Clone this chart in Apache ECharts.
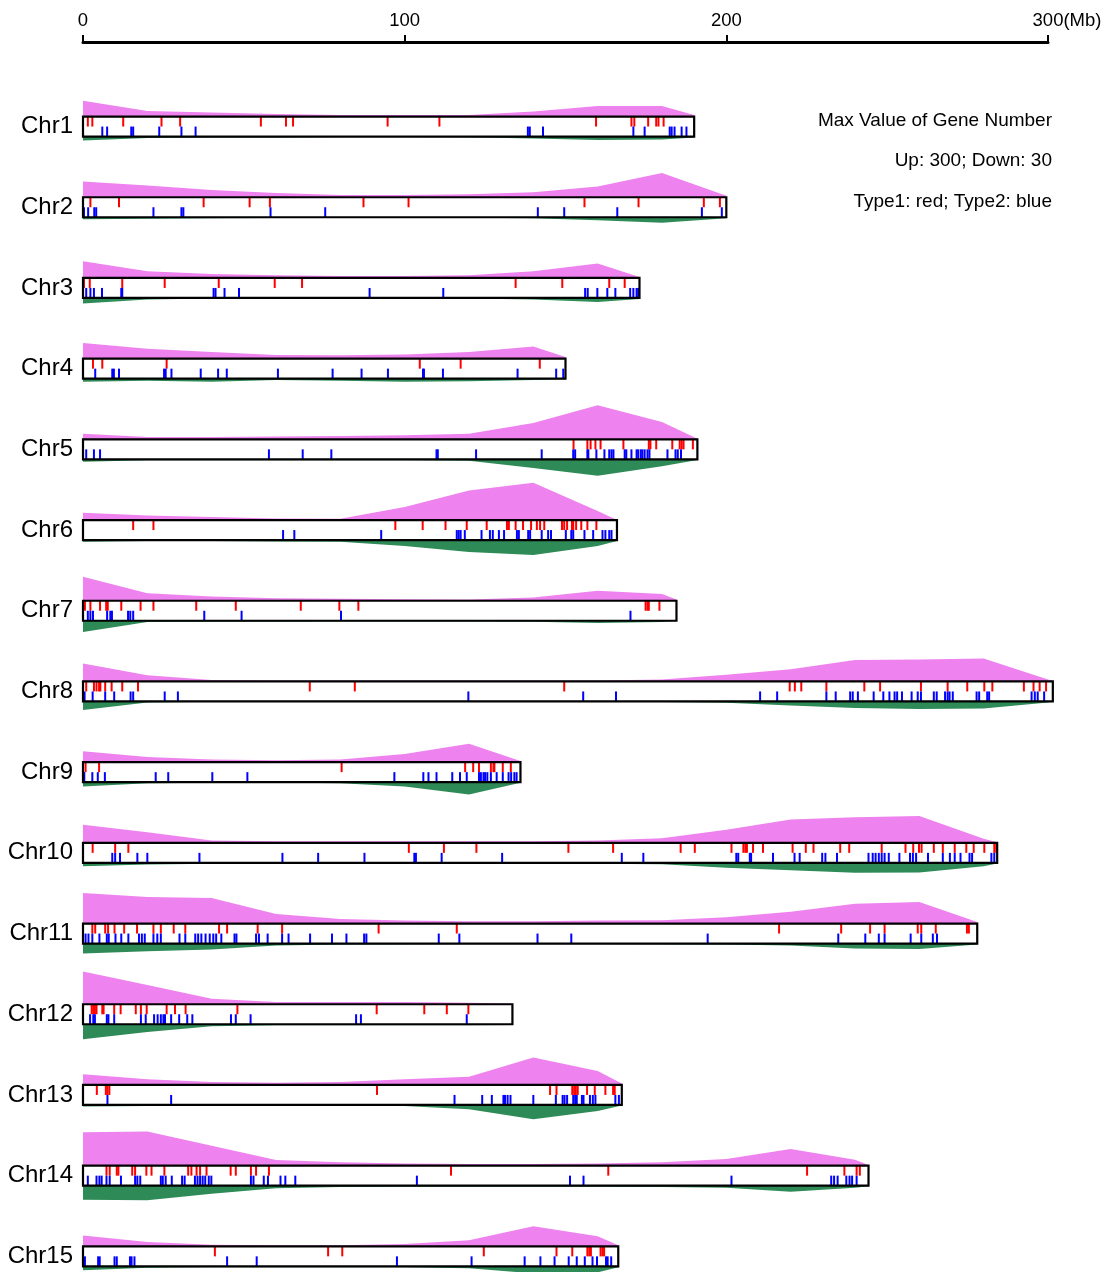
<!DOCTYPE html>
<html>
<head>
<meta charset="utf-8">
<script src="https://cdn.jsdelivr.net/npm/echarts@6/dist/echarts.min.js"></script>
<style>
  html, body { margin: 0; padding: 0; background: #fff; }
  #chart { width: 1108px; height: 1272px; }
</style>
</head>
<body>
<div id="chart"></div>
<script>
// Chromosome names and lengths (Mb)
const chromosomes = ['Chr1','Chr2','Chr3','Chr4','Chr5','Chr6','Chr7','Chr8','Chr9','Chr10','Chr11','Chr12','Chr13','Chr14','Chr15'];
const chrLengths = [190, 200, 173, 150, 191, 166, 184.5, 301.5, 136, 284.2, 278, 133.5, 167.5, 244.2, 166.4];

// Axis ticks (Mb)
const axisTicks = [0, 100, 200, 300];

// Gene-number density sampled every 20 Mb (last value at the chromosome end)
const BIN_MB = 20;
const upDensity = [
  [118, 42, 30, 20, 12, 12, 12, 37, 80, 80, 12],
  [118, 88, 55, 32, 17, 17, 22, 37, 80, 182, 12],
  [125, 50, 30, 20, 15, 15, 20, 50, 108, 8],
  [118, 75, 50, 28, 25, 32, 50, 92, 12],
  [42, 18, 18, 22, 25, 30, 42, 122, 255, 130, 5],
  [55, 35, 22, 12, 10, 98, 222, 280, 68, 0],
  [180, 57, 31, 18, 15, 12, 10, 25, 75, 50, 10],
  [135, 47, 10, 8, 8, 8, 8, 8, 8, 14, 51, 92, 161, 165, 172, 15, 5],
  [82, 38, 20, 15, 20, 62, 138, 8],
  [135, 80, 17, 12, 12, 12, 12, 12, 17, 35, 98, 175, 192, 202, 30, 5],
  [230, 200, 192, 72, 35, 22, 17, 17, 22, 25, 47, 88, 148, 162, 12],
  [245, 145, 42, 17, 17, 17, 12, 5],
  [80, 42, 22, 17, 22, 42, 62, 205, 105, 10],
  [250, 257, 150, 42, 25, 17, 12, 12, 17, 25, 50, 125, 45, 5],
  [82, 32, 12, 8, 8, 17, 45, 150, 75, 8]
];
const downDensity = [
  [6, 2.2, 1.5, 1.5, 0.8, 0.8, 1, 3, 5.2, 4.5, 1.5],
  [3, 2.2, 1.5, 1, 0.8, 0.5, 0.8, 1.5, 4.5, 8.2, 1.5],
  [8.5, 2.5, 1, 1, 1, 1, 1, 2.5, 6, 1.5],
  [4.5, 3, 4.5, 2.2, 3, 4.5, 3.8, 2.2, 0.8],
  [3.5, 1.5, 1.2, 1.2, 1.2, 1.5, 2, 12.8, 24.5, 10.5, 1],
  [2.5, 1.5, 1.5, 2, 2.5, 9, 18, 22.5, 9, 1.5],
  [17, 2, 1.5, 1.5, 1, 1, 1, 1.5, 3.5, 2, 0.5],
  [13, 1.5, 0.5, 0.5, 0.3, 0.5, 0.3, 0.5, 0.3, 0.8, 2, 6, 9.8, 11.5, 10.5, 1.5, 0.5],
  [6.5, 1.5, 1, 0.5, 1.5, 6.5, 18.5, 1],
  [5, 2.5, 1.5, 1.5, 1.5, 1.5, 1.5, 1.5, 1.5, 2, 7.5, 11, 15, 14.5, 5, 1],
  [15, 11.5, 9, 3, 1.5, 1, 0.5, 0.5, 0.5, 1, 1.5, 3, 7.5, 8, 1.5],
  [22.5, 11.5, 3, 1.5, 1.5, 1.5, 1.5, 1],
  [2.5, 1.5, 1.5, 1.5, 1.5, 1.5, 6.5, 21.5, 9, 1],
  [21, 21.8, 12, 3.8, 2.2, 1.5, 1.5, 1.5, 1.5, 2.2, 3, 9, 3, 0.8],
  [6, 2.2, 1.5, 1.5, 1.5, 1.5, 3, 10.5, 9, 1.5]
];

// Scale maxima for the density tracks
const UP_MAX = 300;
const DOWN_MAX = 30;

// Gene positions (Mb): Type1 (red) and Type2 (blue)
const type1Pos = [
  [1.5, 2.9, 12.5, 24.4, 30.2, 55.3, 63.1, 65.3, 94.7, 110.8, 159.5, 170.5, 171.4, 175.7, 178.2, 178.9, 180.5],
  [2.3, 11.2, 37.5, 51.8, 58.1, 87.2, 101.2, 155.9, 172.7, 193, 198],
  [0.3, 2.1, 12.2, 25.4, 42.2, 59.6, 68.1, 134.5, 149, 163.6, 168.4],
  [3.1, 6.0, 26, 104.7, 117.4, 142],
  [152.5, 156.8, 157.8, 159.3, 160.9, 168, 175.9, 176.4, 178.2, 183.2, 185.5, 186.1, 186.7, 189.6],
  [15.6, 21.9, 97.1, 105.6, 112.7, 119.3, 125.5, 131.8, 132.4, 134.5, 136.8, 139.3, 141.1, 142.1, 143.4, 148.9, 149.6, 150.5, 152, 152.4, 153.3, 154.9, 156.8, 159.6],
  [0.6, 2.3, 5.3, 7.2, 7.7, 11.9, 17.9, 21.9, 35.2, 47.5, 67.7, 79.7, 85.6, 174.9, 175.5, 175.9, 179.2],
  [1.0, 3.4, 4.2, 5.0, 5.4, 6.9, 8.9, 12.2, 17.1, 70.5, 84.5, 149.6, 219.7, 221.3, 223.3, 231.1, 242.9, 247.8, 260.5, 268.8, 274.9, 280.2, 282.7, 292.5, 295.5, 297.4, 299.4],
  [0.8, 5.0, 80.4, 118.8, 121.3, 123.1, 126.8, 127.6, 127.9, 130.5, 133],
  [3.0, 10.0, 14.1, 101.3, 112.2, 122.3, 150.9, 164.8, 185.8, 190.2, 201.6, 205.3, 205.9, 206.4, 208.3, 211.4, 220.6, 224.7, 227.1, 235.4, 238.2, 248.3, 255.7, 258.1, 259.9, 260.7, 264.5, 267.3, 271, 274.6, 276.9, 280.2, 283.3, 283.9],
  [2.9, 3.8, 6.9, 7.8, 9.8, 12.8, 16.8, 21.9, 24.2, 28.2, 31.8, 42.3, 44.8, 54.3, 61.9, 91.9, 116.2, 216.4, 235.7, 244.7, 249.2, 259.5, 260.6, 265.1, 274.8, 275.4],
  [2.7, 3.2, 3.7, 4.2, 6, 6.4, 9.7, 11.7, 16.4, 18, 19.8, 26, 28.6, 31.9, 48, 91.3, 106.1, 113.1, 119.8],
  [4.3, 7.1, 7.6, 8.2, 91.4, 145.2, 147.2, 152.1, 152.7, 153.2, 153.8, 156.7, 159.1, 162.4, 164.8, 165.3],
  [7.3, 8.3, 10.5, 11, 15.3, 16.2, 19.7, 21.3, 25.3, 32.7, 33.7, 35.3, 36.4, 38.4, 45.9, 47.5, 52.2, 53.8, 57.8, 114.4, 163.3, 225.1, 236.7, 240.5, 241.5],
  [41, 76.2, 80.6, 124.6, 147.2, 152.1, 156.8, 157.4, 157.9, 160.9, 161.5, 162]
];
const type2Pos = [
  [6.0, 7.5, 15.0, 15.6, 23.7, 30.6, 35.0, 138.3, 138.9, 143.0, 171.1, 174.6, 182.4, 183.0, 183.9, 186.1, 187.6],
  [0.3, 1.6, 3.5, 4.1, 21.9, 30.6, 31.2, 58.3, 75.3, 141.4, 149.6, 166.1, 192.4, 198.6],
  [1.0, 2.3, 3.4, 5.9, 11.9, 12.2, 40.6, 41.2, 44, 48.5, 89.1, 112, 156.1, 156.9, 159.9, 163, 165.5, 170.1, 171.1, 172.1, 172.6],
  [3.8, 9.1, 9.6, 11.2, 25.2, 25.7, 27.5, 36.6, 42, 44.7, 60.6, 77.6, 86.6, 94.8, 105.7, 106, 111.9, 135.1, 147.1, 149.3],
  [1.0, 3.4, 5.3, 57.8, 68.3, 77.2, 109.9, 110.3, 122.2, 142.6, 152.4, 153, 156.8, 157.1, 159.6, 162.1, 163.6, 164.3, 164.9, 168.4, 168.9, 170.5, 172.1, 172.6, 173.4, 173.9, 174.6, 175.5, 176.1, 181.7, 184.2, 184.9, 185.9],
  [62.2, 65.7, 92.7, 116.2, 116.8, 117.4, 118.7, 123.9, 126.5, 127.4, 129.3, 130.9, 134.9, 135.5, 138.4, 139, 142.6, 144.6, 145.5, 150.1, 151.8, 152.4, 155.9, 158.6, 161.5, 162.4, 163.6, 164.3],
  [1.5, 2.3, 3.1, 7.5, 8.5, 9, 14, 14.7, 15.6, 37.7, 49.3, 80.2, 170.2],
  [0.5, 3.0, 6.9, 9.7, 14.8, 15.6, 25.4, 29.5, 119.8, 155.5, 165.7, 210.5, 215.8, 231.1, 234, 238.5, 239.3, 240.9, 245.8, 248.8, 250.7, 252.3, 253.1, 254.6, 257.6, 259.5, 260.5, 264.5, 265.4, 268, 268.8, 269.4, 270.4, 277.8, 278.6, 281.1, 281.7, 294.9, 295.9, 296.8, 298.8],
  [0.4, 2.9, 4.6, 6.8, 22.6, 26.5, 40.2, 51.1, 96.8, 105.8, 107.4, 109.9, 114.8, 117.2, 119.3, 123.1, 123.7, 124.5, 125, 125.7, 126.8, 128.6, 130.5, 132.3, 133.1, 134.1, 134.8],
  [9.1, 10, 11.5, 16.9, 20, 36.2, 62.0, 73.1, 87.5, 103, 103.5, 111.5, 130.3, 167.5, 174.2, 203.1, 203.7, 207.3, 207.7, 214.5, 221.2, 222.8, 229.8, 230.8, 234.4, 244.2, 245.5, 246.4, 247.4, 248.3, 249.2, 250.5, 253.8, 257.1, 258, 259, 262.7, 267.3, 269.5, 271, 272.8, 275.6, 276.4, 282.4, 283.3],
  [0.8, 1.7, 2.9, 5.1, 7.4, 8, 10.1, 11.9, 14.1, 17.4, 18.3, 19.2, 21.9, 23.1, 24.2, 30, 31.8, 34.9, 35.8, 36.8, 38.1, 39.4, 40.5, 41.4, 43, 47.1, 47.7, 53.8, 54.7, 57.4, 61.9, 63.9, 70.6, 77.4, 81.9, 87.4, 88.1, 110.6, 117, 141.3, 151.8, 194.2, 234.8, 243.2, 247.4, 249.2, 257.3, 260.6, 264.2, 265.5],
  [2.2, 3.2, 3.7, 7.4, 7.9, 9.7, 18, 19.5, 22.1, 23.2, 24.2, 25, 25.5, 27.4, 29.9, 32.4, 34, 46, 47.5, 52.1, 84.9, 86.4, 119.3],
  [7.6, 27.4, 115.5, 124.1, 127.1, 130.7, 131.2, 132, 132.9, 140, 147, 149.1, 149.7, 150.5, 152.4, 153, 153.5, 155.1, 155.6, 157.6, 158.5, 159.3, 165.5, 166.6],
  [1.5, 4.2, 5.1, 5.8, 7.3, 8.3, 11.8, 16.2, 16.9, 17.8, 24.2, 24.8, 25.7, 27.6, 30.8, 31.6, 34.8, 35.6, 36.4, 37.2, 38, 39.1, 39.9, 52.2, 53, 56.2, 57.5, 61.4, 62.9, 66, 103.8, 151.4, 155.6, 201.6, 232.6, 233.5, 234.6, 237.3, 238.3, 239.1, 240.5],
  [0.6, 4.7, 5.2, 9.8, 10.5, 14.6, 15.1, 16, 44.8, 54, 97.6, 120.8, 137.3, 142.2, 146.6, 151, 153.5, 156, 158.4, 159.8, 162.6, 163.1, 164.2]
];

// Legend notes
const notes = ['Max Value of Gene Number', 'Up: 300; Down: 30', 'Type1: red; Type2: blue'];

// Drawing constants (pixels)
const BOX_H = 20;      // chromosome bar height
const UP_PX = 40;      // pixel height of UP_MAX
const DOWN_PX = 20;    // pixel height of DOWN_MAX
const TICK_W = 2;
const ROW_H = 80.7;
const GRID_TOP = 86.2;
const AXIS_Y = 42;

const COLORS = { up: '#EE82EE', down: '#2E8B57', type1: '#FF0000', type2: '#0000FF', box: '#000000' };
const FONT = 'Liberation Sans, Arial, sans-serif';

function renderChromosome(params, api) {
  const i = api.value(1);
  const len = chrLengths[i];
  const start = api.coord([0, i]);
  const x0 = start[0];
  const cy = start[1];
  const x1 = api.coord([len, i])[0];
  const top = cy - BOX_H / 2;
  const bot = cy + BOX_H / 2;
  const binX = k => api.coord([Math.min(k * BIN_MB, len), i])[0];

  const upPts = [[x0, top]];
  upDensity[i].forEach((v, k) => upPts.push([binX(k), top - v / UP_MAX * UP_PX]));
  upPts.push([x1, top]);

  const downPts = [[x0, bot]];
  downDensity[i].forEach((v, k) => downPts.push([binX(k), bot + v / DOWN_MAX * DOWN_PX]));
  downPts.push([x1, bot]);

  const children = [
    { type: 'polygon', shape: { points: upPts }, style: { fill: COLORS.up } },
    { type: 'polygon', shape: { points: downPts }, style: { fill: COLORS.down } },
    { type: 'rect', shape: { x: x0, y: top, width: x1 - x0, height: BOX_H }, style: { fill: '#fff' } }
  ];
  type1Pos[i].forEach(p => {
    const x = api.coord([p, i])[0];
    children.push({ type: 'rect', shape: { x: x - TICK_W / 2, y: top, width: TICK_W, height: BOX_H / 2 }, style: { fill: COLORS.type1 } });
  });
  type2Pos[i].forEach(p => {
    const x = api.coord([p, i])[0];
    children.push({ type: 'rect', shape: { x: x - TICK_W / 2, y: cy, width: TICK_W, height: BOX_H / 2 }, style: { fill: COLORS.type2 } });
  });
  children.push({ type: 'rect', shape: { x: x0, y: top, width: x1 - x0, height: BOX_H }, style: { fill: 'none', stroke: COLORS.box, lineWidth: 2.2 } });
  return { type: 'group', children };
}

const chart = echarts.init(document.getElementById('chart'), null, { renderer: 'canvas' });
chart.setOption({
  animation: false,
  backgroundColor: '#fff',
  grid: {
    left: 83, width: 965, top: GRID_TOP, height: ROW_H * chromosomes.length,
    outerBoundsMode: 'none', containLabel: false
  },
  xAxis: {
    type: 'value', position: 'top', offset: GRID_TOP - AXIS_Y,
    min: axisTicks[0], max: axisTicks[axisTicks.length - 1], interval: 100,
    axisLine: { show: true, lineStyle: { color: '#000', width: 3 } },
    axisTick: { show: true, inside: false, length: 7, lineStyle: { color: '#000', width: 2 } },
    splitLine: { show: false },
    axisLabel: {
      color: '#000', fontSize: 18.5, fontFamily: FONT, margin: 12,
      formatter: v => v === axisTicks[axisTicks.length - 1] ? '{pad|}' + v + '(Mb)' : String(v),
      rich: { pad: { width: 38 } }
    }
  },
  yAxis: {
    type: 'category', data: chromosomes, inverse: true,
    axisLine: { show: false }, axisTick: { show: false }, splitLine: { show: false },
    axisLabel: { color: '#000', fontSize: 24, fontFamily: FONT, margin: 10 }
  },
  graphic: notes.map((t, k) => ({
    type: 'text', right: 56, top: 111 + k * 40.5,
    style: { text: t, fill: '#000', font: '19px ' + FONT, textAlign: 'right' }
  })),
  series: [{
    type: 'custom',
    renderItem: renderChromosome,
    encode: { x: 0, y: 1 },
    data: chromosomes.map((c, i) => [0, i])
  }]
});
</script>
</body>
</html>
